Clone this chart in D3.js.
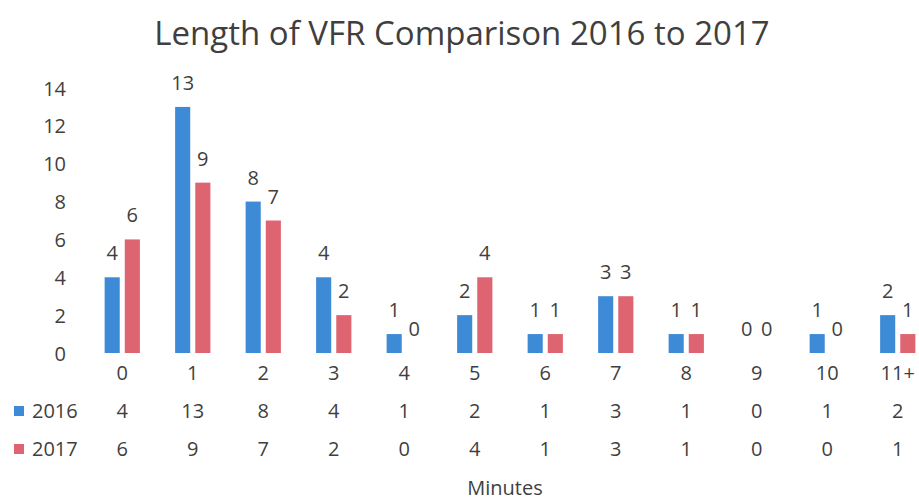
<!DOCTYPE html>
<html>
<head>
<meta charset="utf-8">
<script src="https://cdn.jsdelivr.net/npm/d3@7"></script>
<style>
  html, body { margin: 0; padding: 0; background: #fff; }
  svg text { font-family: "Open Sans", "Liberation Sans", sans-serif; fill: #3f3f3f; }
</style>
</head>
<body>
<script>
// chart data
const categories = ["0", "1", "2", "3", "4", "5", "6", "7", "8", "9", "10", "11+"];
const seriesNames = ["2016", "2017"];
const values2016 = [4, 13, 8, 4, 1, 2, 1, 3, 1, 0, 1, 2];
const values2017 = [6, 9, 7, 2, 0, 4, 1, 3, 1, 0, 0, 1];
const yTicks = [0, 2, 4, 6, 8, 10, 12, 14];

const width = 919;
const height = 500;
const colors = { "2016": "#3d8ad6", "2017": "#dd6470" };
const fs = "20px";

const svg = d3
  .select("body")
  .append("svg")
  .attr("width", width)
  .attr("height", height);

// title
svg
  .append("text")
  .attr("x", 462)
  .attr("y", 45)
  .attr("text-anchor", "middle")
  .style("font-size", "33px")
  .text("Length of VFR Comparison 2016 to 2017");

// scales
const x0 = d3
  .scaleBand()
  .domain(categories)
  .range([87, 933])
  .paddingInner(0.5)
  .paddingOuter(0.25);

const x1 = d3
  .scaleBand()
  .domain(seriesNames)
  .range([0, x0.bandwidth()])
  .paddingInner(0.25);

const y = d3.scaleLinear().domain([0, 14]).range([353, 88]);

// y axis (labels only)
const yAxis = d3.axisLeft(y).tickValues(yTicks).tickSize(0).tickPadding(0);
const yg = svg.append("g").attr("transform", "translate(66,0)").call(yAxis);
yg.select(".domain").remove();
yg.selectAll("text")
  .style("font-size", fs)
  .style("font-family", "'Open Sans', sans-serif")
  .attr("fill", "#3f3f3f")
  .attr("dy", "0.35em");

// rows of data
const rows = categories.map((c, i) => ({
  cat: c,
  vals: [
    { s: "2016", v: values2016[i] },
    { s: "2017", v: values2017[i] },
  ],
}));

const groups = svg
  .selectAll(".grp")
  .data(rows)
  .enter()
  .append("g")
  .attr("class", "grp")
  .attr("transform", (d) => `translate(${x0(d.cat)},0)`);

groups
  .selectAll("rect")
  .data((d) => d.vals)
  .enter()
  .append("rect")
  .attr("x", (d) => x1(d.s))
  .attr("width", x1.bandwidth())
  .attr("y", (d) => y(d.v))
  .attr("height", (d) => y(0) - y(d.v))
  .attr("fill", (d) => colors[d.s]);

// value labels
groups
  .selectAll(".val")
  .data((d) => d.vals)
  .enter()
  .append("text")
  .attr("class", "val")
  .attr("x", (d) => x1(d.s) + x1.bandwidth() / 2)
  .attr("y", (d) => y(d.v) - 17)
  .attr("text-anchor", "middle")
  .style("font-size", fs)
  .text((d) => d.v);

// category axis labels
const xAxis = d3.axisBottom(x0).tickSize(0).tickPadding(0);
const xg = svg.append("g").attr("transform", "translate(0,373)").call(xAxis);
xg.select(".domain").remove();
xg.selectAll("text")
  .style("font-size", fs)
  .style("font-family", "'Open Sans', sans-serif")
  .attr("fill", "#3f3f3f")
  .attr("y", 0)
  .attr("dy", "0.35em");

// data table
const tableRows = [
  { s: "2016", vals: values2016, y: 411 },
  { s: "2017", vals: values2017, y: 449 },
];

tableRows.forEach((r) => {
  const g = svg.append("g");
  g.append("rect")
    .attr("x", 14)
    .attr("y", r.y - 5)
    .attr("width", 10)
    .attr("height", 10)
    .attr("fill", colors[r.s]);
  g.append("text")
    .attr("x", 32)
    .attr("y", r.y)
    .attr("dy", "0.35em")
    .style("font-size", fs)
    .text(r.s);
  g.selectAll(".cell")
    .data(r.vals)
    .enter()
    .append("text")
    .attr("class", "cell")
    .attr("x", (d, i) => x0(categories[i]) + x0.bandwidth() / 2)
    .attr("y", r.y)
    .attr("dy", "0.35em")
    .attr("text-anchor", "middle")
    .style("font-size", fs)
    .text((d) => d);
});

// x axis title
svg
  .append("text")
  .attr("x", 505)
  .attr("y", 488)
  .attr("dy", "0.35em")
  .attr("text-anchor", "middle")
  .style("font-size", fs)
  .text("Minutes");
</script>
</body>
</html>
